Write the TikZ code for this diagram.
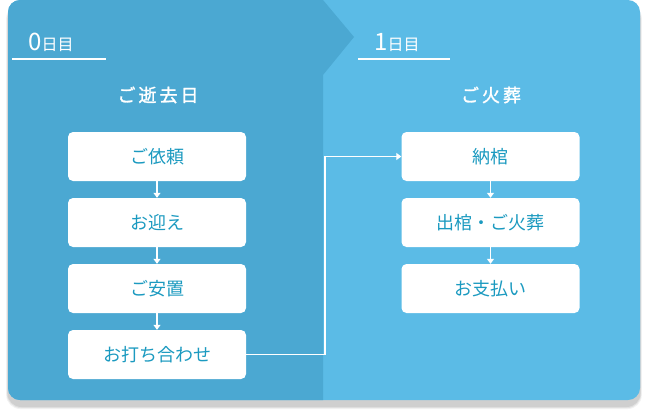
\documentclass[tikz,border=0pt]{standalone}
\usepackage{fontspec}
\newfontfamily\jp{Noto Sans CJK JP}
\newfontfamily\jpb{Noto Sans CJK JP}[FakeBold=1.5]
\usetikzlibrary{arrows.meta}
\definecolor{leftc}{HTML}{4BA8D2}
\definecolor{rightc}{HTML}{5BBBE6}
\definecolor{txt}{HTML}{1B9AC0}
\begin{document}
\begin{tikzpicture}[x=1pt,y=-1pt,
  stepbox/.style={fill=white,rounded corners=5pt,minimum width=178pt,minimum height=49pt,inner sep=0pt,
    font=\jp\fontsize{18}{20}\selectfont,text=txt},
  link/.style={white,line width=1.6pt,-{Triangle[length=5pt,width=7pt]}},
  hdr/.style={text=white,inner sep=0pt},
  uline/.style={white,line width=1.5pt}]
\useasboundingbox (0,0) rectangle (648,416);
% shadow
\foreach \i/\o in {6/0.05,4/0.07,2/0.08}
  \fill[black,opacity=\o,rounded corners=14pt] (8-\i*0.3,6-\i*0.3) rectangle (640+\i*0.3,406+\i*0.5);
\fill[rightc,rounded corners=12pt] (8,0) rectangle (640,400);
\begin{scope}
\clip[rounded corners=12pt] (8,0) rectangle (640,400);
\fill[leftc] (8,0) -- (323,0) -- (354,37) -- (323,75) -- (323,400) -- (8,400) -- cycle;
\end{scope}
% headers
\node[hdr,anchor=base west] (d0) at (28,50) {\jp\fontsize{24}{24}\selectfont 0\fontsize{16}{16}\selectfont 日目};
\draw[uline] (12,59) -- (106,59);
\node[hdr,anchor=base west] (d1) at (374,50) {\jp\fontsize{24}{24}\selectfont 1\fontsize{16}{16}\selectfont 日目};
\draw[uline] (358,59) -- (450,59);
\node[hdr] (t0) at (158,95) {\jpb\fontsize{18}{18}\selectfont ご\,逝\,去\,日};
\node[hdr] (t1) at (491,95) {\jpb\fontsize{18}{18}\selectfont ご\,火\,葬};
% left boxes
\node[stepbox] (a1) at (157,156.5) {ご依頼};
\node[stepbox] (a2) at (157,222.5) {お迎え};
\node[stepbox] (a3) at (157,288.5) {ご安置};
\node[stepbox] (a4) at (157,354.5) {お打ち合わせ};
\node[stepbox] (b1) at (490.5,156.5) {納棺};
\node[stepbox] (b2) at (490.5,222.5) {出棺・ご火葬};
\node[stepbox] (b3) at (490.5,288.5) {お支払い};
\draw[link] (a1) -- (a2);
\draw[link] (a2) -- (a3);
\draw[link] (a3) -- (a4);
\draw[link] (b1) -- (b2);
\draw[link] (b2) -- (b3);
\draw[link] (a4.east) -- (325,354.5) |- (b1.west);
\end{tikzpicture}
\end{document}
